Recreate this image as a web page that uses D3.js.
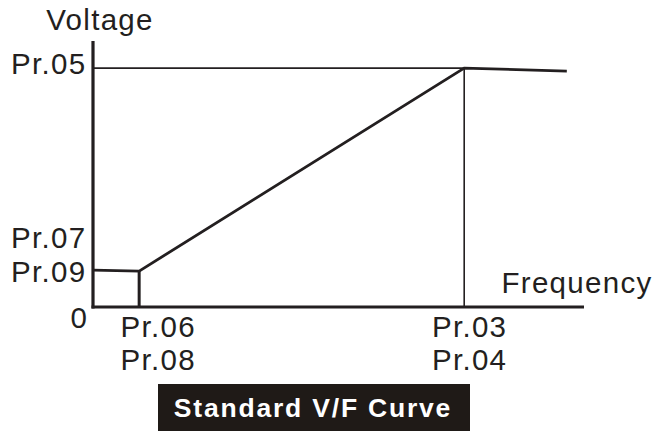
<!DOCTYPE html>
<html>
<head>
<meta charset="utf-8">
<script src="https://cdn.jsdelivr.net/npm/d3@7"></script>
<style>
html,body{margin:0;padding:0;background:#fff;}
svg{display:block;font-family:"Liberation Sans",Arial,sans-serif;}
</style>
</head>
<body>
<svg id="chart" width="657" height="431"></svg>
<script>
// ---- data (abstract units: frequency 0..100, voltage 0..100) ----
const curveFreq    = [0, 9.4, 9.4, 75.6, 96.5];
const curveVolt    = [13.9, 13.5, 13.5, 89.8, 88.7];
const pr03Freq     = 75.6;          // base frequency
const pr05Volt     = 89.8;          // max voltage
const pr06Freq     = 9.4;           // min frequency
const yTickLabels  = ["Pr.05", "Pr.07", "Pr.09"];
const yTickValues  = [91.3, 26, 13.2];
const xTickLine1   = ["Pr.06", "Pr.03"];
const xTickLine2   = ["Pr.08", "Pr.04"];
const xTickValues  = [13.2, 76.6];
const titleText    = "Standard V/F Curve";
const xAxisTitle   = "Frequency";
const yAxisTitle   = "Voltage";

const ink = "#231f20";
const svg = d3.select("#chart");
const x = d3.scaleLinear().domain([0, 100]).range([93, 584]);
const y = d3.scaleLinear().domain([0, 100]).range([307, 41]);

// reference lines (thin)
svg.append("line").attr("x1", x(0)).attr("x2", x(pr03Freq))
  .attr("y1", y(pr05Volt)).attr("y2", y(pr05Volt))
  .attr("stroke", ink).attr("stroke-width", 1.6);
svg.append("line").attr("x1", x(pr03Freq)).attr("x2", x(pr03Freq))
  .attr("y1", y(pr05Volt)).attr("y2", y(0))
  .attr("stroke", ink).attr("stroke-width", 1.6);

// Pr.06 vertical (thick)
svg.append("line").attr("x1", x(pr06Freq)).attr("x2", x(pr06Freq))
  .attr("y1", y(curveVolt[1])).attr("y2", y(0))
  .attr("stroke", ink).attr("stroke-width", 3);

// curve
const pts = curveFreq.map((f, i) => [f, curveVolt[i]]);
svg.append("path").datum(pts)
  .attr("d", d3.line().x(d => x(d[0])).y(d => y(d[1])))
  .attr("fill", "none").attr("stroke", ink).attr("stroke-width", 2.8)
  .attr("stroke-linejoin", "miter");

// axes
svg.append("line").attr("x1", x(0)).attr("x2", x(0))
  .attr("y1", y(100)).attr("y2", y(0) + 1.5)
  .attr("stroke", ink).attr("stroke-width", 3.2);
svg.append("line").attr("x1", x(0) - 1.5).attr("x2", x(100))
  .attr("y1", y(0)).attr("y2", y(0))
  .attr("stroke", ink).attr("stroke-width", 3.2);

const fs = 29.5;
const ls = 1.3;
// y labels
const yAx = svg.append("g").attr("transform", `translate(${x(0) - 6.5},0)`)
  .call(d3.axisLeft(y).tickValues(yTickValues).tickSize(0).tickPadding(0)
    .tickFormat((d, i) => yTickLabels[i]));
yAx.select(".domain").remove();
yAx.selectAll("text").attr("font-size", fs).attr("fill", ink)
  .attr("letter-spacing", ls)
  .attr("font-family", "Liberation Sans, Arial, sans-serif");

// zero
svg.append("text").attr("x", x(0) - 6).attr("y", y(0) + 21)
  .attr("text-anchor", "end").attr("font-size", fs).attr("fill", ink).text("0");

// x labels (two rows)
const xAx1 = svg.append("g").attr("transform", `translate(0,${y(0) + 9})`)
  .call(d3.axisBottom(x).tickValues(xTickValues).tickSize(0).tickPadding(0)
    .tickFormat((d, i) => xTickLine1[i]));
const xAx2 = svg.append("g").attr("transform", `translate(0,${y(0) + 42})`)
  .call(d3.axisBottom(x).tickValues(xTickValues).tickSize(0).tickPadding(0)
    .tickFormat((d, i) => xTickLine2[i]));
[xAx1, xAx2].forEach(g => {
  g.select(".domain").remove();
  g.selectAll("text").attr("font-size", fs).attr("fill", ink)
    .attr("letter-spacing", ls)
    .attr("font-family", "Liberation Sans, Arial, sans-serif")
    .attr("dy", "0.72em");
});

// axis titles
svg.append("text").attr("x", 100).attr("y", 30).attr("text-anchor", "middle")
  .attr("font-size", fs).attr("letter-spacing", ls).attr("fill", ink).text(yAxisTitle);
svg.append("text").attr("x", 577).attr("y", 293).attr("text-anchor", "middle")
  .attr("font-size", fs).attr("letter-spacing", ls).attr("fill", ink).text(xAxisTitle);

// title box
svg.append("rect").attr("x", 158).attr("y", 384).attr("width", 312).attr("height", 47)
  .attr("fill", "#1f1a17");
svg.append("text").attr("x", 313).attr("y", 417).attr("text-anchor", "middle")
  .attr("font-size", 26.5).attr("font-weight", "bold").attr("fill", "#fff")
  .attr("letter-spacing", 1.8).text(titleText);
</script>
</body>
</html>
